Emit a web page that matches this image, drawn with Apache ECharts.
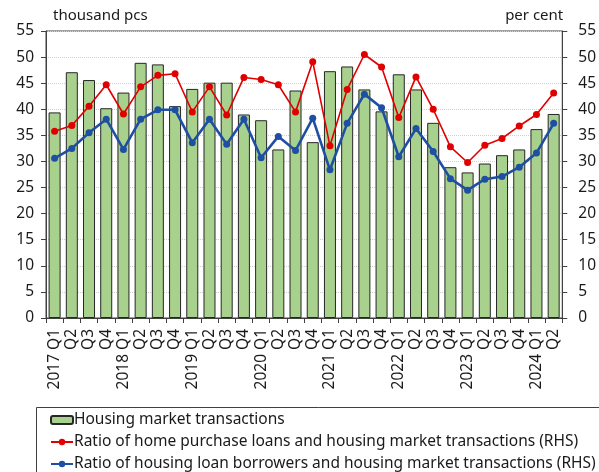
<!DOCTYPE html>
<html>
<head>
<meta charset="utf-8">
<script src="https://cdn.jsdelivr.net/npm/echarts@6/dist/echarts.min.js"></script>
<style>
  html, body { margin: 0; padding: 0; background: #fff; }
  #chart { width: 599px; height: 472px; }
</style>
</head>
<body>
<div id="chart"></div>
<script>
// quarters, 2017 Q1 .. 2024 Q2
const categories = [
    '2017 Q1', 'Q2', 'Q3', 'Q4',
    '2018 Q1', 'Q2', 'Q3', 'Q4',
    '2019 Q1', 'Q2', 'Q3', 'Q4',
    '2020 Q1', 'Q2', 'Q3', 'Q4',
    '2021 Q1', 'Q2', 'Q3', 'Q4',
    '2022 Q1', 'Q2', 'Q3', 'Q4',
    '2023 Q1', 'Q2', 'Q3', 'Q4',
    '2024 Q1', 'Q2'
];

// thousand pcs (LHS)
const transactions = [
    39.4, 47.1, 45.6, 40.2, 43.2, 48.9, 48.6, 40.6, 43.9, 45.1,
    45.1, 39.0, 37.9, 32.3, 43.6, 33.7, 47.3, 48.2, 43.8, 39.6,
    46.7, 43.8, 37.4, 28.9, 27.9, 29.6, 31.2, 32.3, 36.2, 39.1
];

// per cent (RHS)
const purchaseLoanRatio = [
    35.8, 36.9, 40.6, 44.7, 39.1, 44.3, 46.5, 46.8, 39.5, 44.3,
    38.9, 46.1, 45.7, 44.7, 39.5, 49.1, 33.0, 43.8, 50.5, 48.1,
    38.4, 46.2, 40.0, 32.8, 29.8, 33.1, 34.4, 36.8, 39.0, 43.1
];

const borrowerRatio = [
    30.6, 32.5, 35.5, 38.1, 32.3, 38.1, 39.9, 39.9, 33.6, 38.1,
    33.3, 38.1, 30.7, 34.8, 32.1, 38.3, 28.4, 37.3, 42.9, 40.3,
    30.9, 36.3, 31.9, 26.7, 24.5, 26.6, 27.1, 28.9, 31.6, 37.3
];

const names = [
    'Housing market transactions',
    'Ratio of home purchase loans and housing market transactions (RHS)',
    'Ratio of housing loan borrowers and housing market transactions (RHS)'
];

const font = '"Noto Sans", sans-serif';
const textColor = '#1a1a1a';
const axisColor = '#404040';

const valueAxis = (pos, name) => ({
    type: 'value',
    position: pos,
    min: 0,
    max: 55,
    interval: 5,
    name: name,
    nameLocation: 'end',
    nameGap: 8,
    nameTextStyle: {
        fontFamily: font,
        fontSize: 15,
        color: textColor,
        align: pos === 'left' ? 'left' : 'right',
        padding: pos === 'left' ? [0, 0, 0, 7] : [0, -1, 0, 0]
    },
    axisLine: { show: true, lineStyle: { color: axisColor, width: 1 } },
    axisTick: { show: true, inside: false, length: 5, lineStyle: { color: axisColor } },
    axisLabel: {
        fontFamily: font,
        fontSize: 15.5,
        color: textColor,
        margin: pos === 'left' ? 12 : 16
    },
    splitLine: pos === 'left'
        ? { show: true, lineStyle: { color: '#d0d0d0', type: 'dotted', width: 1 } }
        : { show: false }
});

const option = {
    animation: false,
    textStyle: { fontFamily: font },
    grid: {
        left: 46,
        right: 30,
        top: 31,
        bottom: 154,
        show: true,
        borderColor: axisColor,
        borderWidth: 1
    },
    legend: {
        orient: 'vertical',
        left: 46,
        top: 412,
        padding: [0, 0, 0, 4],
        itemGap: 6,
        itemWidth: 22,
        itemHeight: 8,
        textStyle: { fontFamily: font, fontSize: 15.5, color: textColor, padding: [0, 0, 0, -4] },
        data: names
    },
    graphic: [{
        type: 'rect',
        left: 34,
        top: 405,
        shape: { width: 600, height: 80 },
        style: { fill: 'none', stroke: axisColor, lineWidth: 1 },
        silent: true
    }],
    xAxis: {
        type: 'category',
        data: categories,
        boundaryGap: true,
        axisLine: { show: true, lineStyle: { color: axisColor } },
        axisTick: { show: true, length: 5, alignWithLabel: false, lineStyle: { color: axisColor } },
        axisLabel: {
            interval: 0,
            rotate: 90,
            margin: 11,
            fontFamily: font,
            fontSize: 15.5,
            color: textColor
        }
    },
    yAxis: [
        valueAxis('left', 'thousand pcs'),
        valueAxis('right', 'per cent')
    ],
    series: [
        {
            name: names[0],
            type: 'bar',
            yAxisIndex: 0,
            data: transactions,
            barWidth: 12,
            itemStyle: { color: '#a9d18e', borderColor: '#262626', borderWidth: 1 }
        },
        {
            name: names[1],
            type: 'line',
            yAxisIndex: 1,
            data: purchaseLoanRatio,
            symbol: 'circle',
            symbolSize: 7,
            lineStyle: { color: '#e00000', width: 1.6 },
            itemStyle: { color: '#e00000' }
        },
        {
            name: names[2],
            type: 'line',
            yAxisIndex: 1,
            data: borrowerRatio,
            symbol: 'circle',
            symbolSize: 7,
            lineStyle: { color: '#1f4fa3', width: 2.6 },
            itemStyle: { color: '#1f4fa3' }
        }
    ]
};

const chart = echarts.init(document.getElementById('chart'));
chart.setOption(option);
</script>
</body>
</html>
